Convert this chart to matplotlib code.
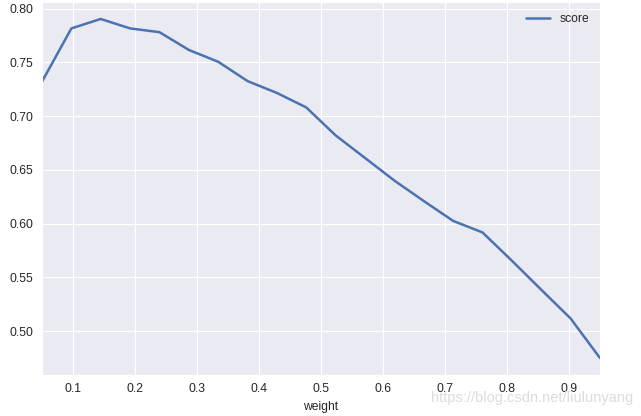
import pandas as pd
import numpy as np
import seaborn as sns
import matplotlib
matplotlib.use('Agg')
import matplotlib.pyplot as plt

# weights tried and the score we got for each one
weight = [0.05, 0.0974, 0.1447, 0.1921, 0.2395, 0.2868, 0.3342, 0.3816, 0.4289, 0.4763,
          0.5237, 0.5711, 0.6184, 0.6658, 0.7132, 0.7605, 0.8079, 0.8553, 0.9026, 0.95]
score = [0.732, 0.7815, 0.7903, 0.7815, 0.778, 0.7615, 0.7505, 0.7325, 0.7215, 0.708,
         0.682, 0.661, 0.640, 0.621, 0.6025, 0.5918, 0.5655, 0.5385, 0.5118, 0.475]

df = pd.DataFrame({'weight': weight, 'score': score})

sns.set_style('darkgrid')
plt.rcParams['font.family'] = ['Liberation Sans', 'DejaVu Sans']
plt.rcParams['font.size'] = 8.7
plt.rcParams['text.color'] = '.15'
plt.rcParams['axes.labelcolor'] = '.15'
plt.rcParams['xtick.color'] = '.15'
plt.rcParams['ytick.color'] = '.15'

fig = plt.figure(figsize=(6.41, 4.16), dpi=100)
ax = fig.add_axes([0.0655, 0.0986, 0.8705, 0.8966])
df.plot(x='weight', y='score', ax=ax, color='#4C72B0', linewidth=1.8)

ax.set_xlim(weight[0], weight[-1])
ax.set_xticks([0.1, 0.2, 0.3, 0.4, 0.5, 0.6, 0.7, 0.8, 0.9])
ax.set_xticklabels(['0.1', '0.2', '0.3', '0.4', '0.5', '0.6', '0.7', '0.8', '0.9'])
ax.set_yticks([0.50, 0.55, 0.60, 0.65, 0.70, 0.75, 0.80])
ax.set_yticklabels(['%.2f' % v for v in [0.50, 0.55, 0.60, 0.65, 0.70, 0.75, 0.80]])
ax.tick_params(axis='both', length=0, pad=6, labelsize=8.7)
ax.set_xlabel('weight', fontsize=8.7, labelpad=4)
ax.legend(loc='upper right', frameon=False, fontsize=8.7)

fig.text(0.988, 0.043, 'https://blog.csdn.net/liulunyang', ha='right', va='center',
         color='#dcdcdc', fontsize=10.5)

fig.savefig('out.png', dpi=100)
